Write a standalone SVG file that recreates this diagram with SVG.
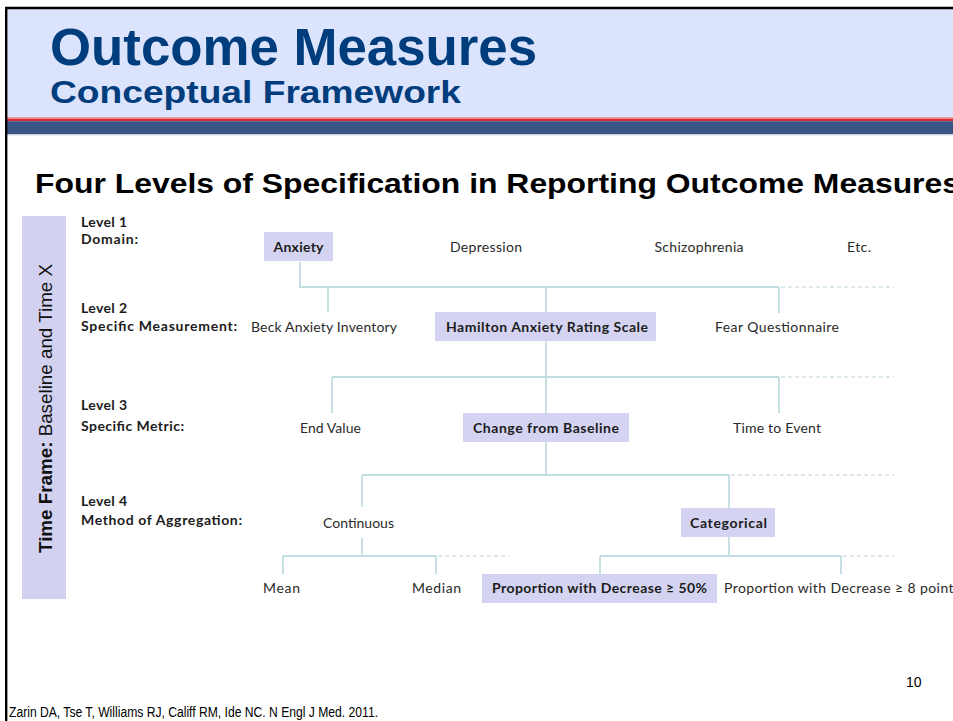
<svg xmlns="http://www.w3.org/2000/svg" width="953" height="721" viewBox="0 0 953 721">
  <style>
    .lbl { font-family: Lato, "Noto Sans", sans-serif; font-weight: bold; font-size: 14px; fill: #1c1c1c; }
    .n { font-family: Lato, "Noto Sans", sans-serif; font-size: 14px; fill: #2a2a2a; text-anchor: middle; }
    .nb { font-family: Lato, "Noto Sans", sans-serif; font-weight: bold; font-size: 14px; fill: #1c1c1c; text-anchor: middle; }
    .box { fill: #d4d4f2; }
    .ln { stroke: #c2dde1; stroke-width: 1.8; fill: none; }
    .dash { stroke: #d3e2e5; stroke-width: 1.5; fill: none; stroke-dasharray: 4 3; }
  </style>

  <rect width="953" height="721" fill="#ffffff"/>

  <!-- header band -->
  <rect x="6" y="8" width="947" height="110" fill="#dce3fc"/>
  <rect x="6" y="117" width="947" height="1.6" fill="#e89a9f"/>
  <rect x="6" y="118.6" width="947" height="2.6" fill="#d42e35"/>
  <rect x="6" y="121.2" width="947" height="12.8" fill="#385586"/>
  <rect x="6" y="134" width="947" height="1.3" fill="#c9d2e3"/>

  <!-- slide frame -->
  <line x1="5" y1="8" x2="953" y2="8" stroke="#000" stroke-width="2.6"/>
  <line x1="6.2" y1="7" x2="6.2" y2="721" stroke="#000" stroke-width="2.4"/>

  <text x="50" y="65" font-family="'Liberation Sans', Arial, sans-serif" font-weight="bold" font-size="51" fill="#003d7d" textLength="487" lengthAdjust="spacingAndGlyphs">Outcome Measures</text>
  <text x="50" y="103" font-family="'Liberation Sans', Arial, sans-serif" font-weight="bold" font-size="32" fill="#003d7d" textLength="411" lengthAdjust="spacingAndGlyphs">Conceptual Framework</text>

  <text x="35" y="193" font-family="'Liberation Sans', Arial, sans-serif" font-weight="bold" font-size="28" fill="#000" textLength="925" lengthAdjust="spacingAndGlyphs">Four Levels of Specification in Reporting Outcome Measures</text>

  <!-- time frame bar -->
  <g id="timeframe">
    <rect x="22" y="216" width="44" height="383" fill="#d2d2f0"/>
    <text transform="translate(52,553) rotate(-90)" font-family="'Liberation Sans', Arial, sans-serif" font-size="19" fill="#111" textLength="289" lengthAdjust="spacingAndGlyphs"><tspan font-weight="bold">Time Frame:</tspan> Baseline and Time X</text>
  </g>

  <!-- level labels -->
  <g id="levels">
    <text class="lbl" x="81" y="227" textLength="46">Level 1</text>
    <text class="lbl" x="81" y="244" textLength="57">Domain:</text>
    <text class="lbl" x="81" y="313" textLength="46">Level 2</text>
    <text class="lbl" x="81" y="331" textLength="156">Specific Measurement:</text>
    <text class="lbl" x="81" y="410" textLength="46">Level 3</text>
    <text class="lbl" x="81" y="431" textLength="103">Specific Metric:</text>
    <text class="lbl" x="81" y="506" textLength="46">Level 4</text>
    <text class="lbl" x="81" y="525" textLength="161">Method of Aggregation:</text>
  </g>

  <!-- connectors -->
  <g id="connectors">
    <path class="ln" d="M300 262 V287 H779 M328 287 V312 M546 287 V312 M779 287 V313"/>
    <path class="dash" d="M781 287 H894"/>
    <path class="ln" d="M546 341 V377 M332 377 H779 M332 377 V413 M546 377 V413 M779 377 V413"/>
    <path class="dash" d="M781 377 H894"/>
    <path class="ln" d="M546 442 V475 M362 475 H729 M362 475 V507 M729 475 V508"/>
    <path class="dash" d="M731 475 H894"/>
    <path class="ln" d="M362 538 V556 M283 556 H436 M283 556 V574 M436 556 V574"/>
    <path class="dash" d="M438 556 H509"/>
    <path class="ln" d="M729 537 V556 M600 556 H841 M600 556 V574 M841 556 V574"/>
    <path class="dash" d="M843 556 H894"/>
  </g>

  <!-- level 1 -->
  <g id="anxiety"><rect class="box" x="264" y="232" width="69" height="29"/><text class="nb" x="298.5" y="252" textLength="50">Anxiety</text></g>
  <g id="depression"><text class="n" x="486" y="252" textLength="72">Depression</text></g>
  <g id="schizophrenia"><text class="n" x="699" y="252" textLength="89">Schizophrenia</text></g>
  <g id="etc"><text class="n" x="859" y="252" textLength="24">Etc.</text></g>

  <!-- level 2 -->
  <g id="beck"><text class="n" x="324" y="332" textLength="146">Beck Anxiety Inventory</text></g>
  <g id="hamilton"><rect class="box" x="435" y="312" width="221" height="29"/><text class="nb" x="547" y="332" textLength="202">Hamilton Anxiety Rating Scale</text></g>
  <g id="fear"><text class="n" x="777" y="332" textLength="124">Fear Questionnaire</text></g>

  <!-- level 3 -->
  <g id="end-value"><text class="n" x="330.5" y="433" textLength="61">End Value</text></g>
  <g id="change"><rect class="box" x="463" y="413" width="166" height="29"/><text class="nb" x="546" y="433" textLength="146">Change from Baseline</text></g>
  <g id="time-to-event"><text class="n" x="777" y="433" textLength="88">Time to Event</text></g>

  <!-- level 4 -->
  <g id="continuous"><text class="n" x="358.5" y="528" textLength="71">Continuous</text></g>
  <g id="categorical"><rect class="box" x="681" y="508" width="94" height="29"/><text class="nb" x="728.5" y="528" textLength="77">Categorical</text></g>

  <!-- leaves -->
  <g id="mean"><text class="n" x="281.5" y="593" textLength="37">Mean</text></g>
  <g id="median"><text class="n" x="436.5" y="593" textLength="49">Median</text></g>
  <g id="prop50"><rect class="box" x="482" y="574" width="235" height="29"/><text class="nb" x="599.5" y="593" textLength="215">Proportion with Decrease ≥ 50%</text></g>
  <g id="prop8"><text class="n" x="724" y="593" style="text-anchor:start" textLength="236">Proportion with Decrease ≥ 8 points</text></g>

  <!-- footer -->
  <text x="906" y="687" font-family="'Liberation Sans', Arial, sans-serif" font-size="14" fill="#000">10</text>
  <text x="9" y="717" font-family="'Liberation Sans', Arial, sans-serif" font-size="14" fill="#000" textLength="369" lengthAdjust="spacingAndGlyphs">Zarin DA, Tse T, Williams RJ, Califf RM, Ide NC. N Engl J Med. 2011.</text>
</svg>
